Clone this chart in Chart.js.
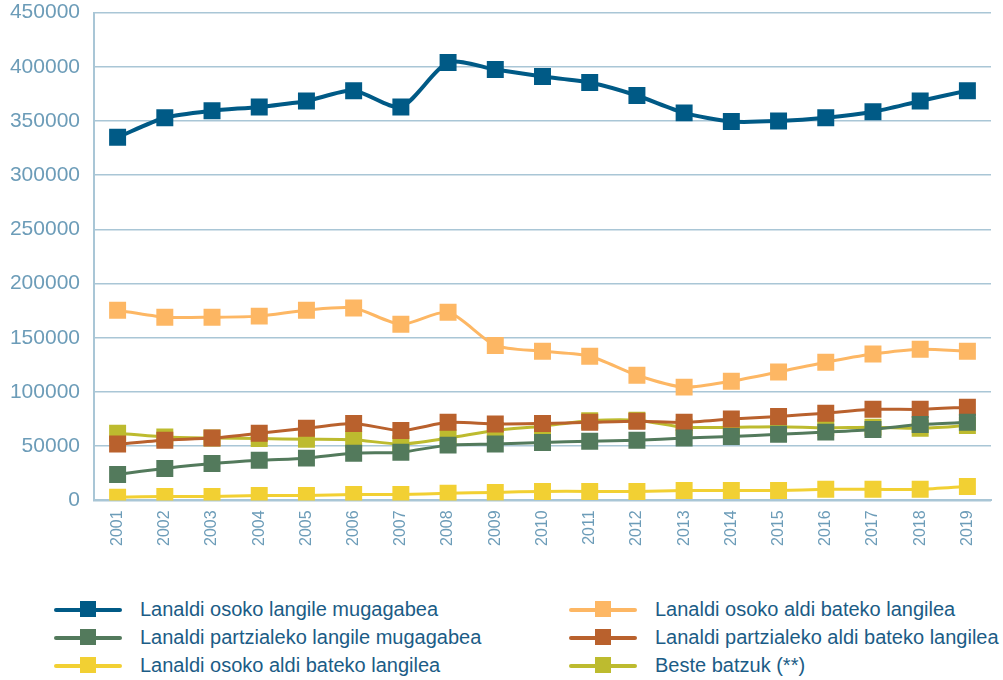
<!DOCTYPE html>
<html>
<head>
<meta charset="utf-8">
<script src="https://cdn.jsdelivr.net/npm/chart.js@4"></script>
<style>
  html, body { margin: 0; padding: 0; background: #ffffff; overflow: hidden; }
  #wrap { position: relative; width: 1003px; height: 570px; margin-top: -14px; }
  #legend {
    position: absolute; left: 0; top: 597px; width: 1003px;
    font-family: "Liberation Sans Narrow", "Liberation Sans", Arial, sans-serif;
    font-size: 20px; color: #1b5c86;
  }
  .item { position: absolute; height: 24px; line-height: 24px; white-space: nowrap; }
  .swatch { position: absolute; left: 0; top: 11px; width: 68px; height: 4px; border-radius: 2px; }
  .box { position: absolute; left: 26px; top: 4px; width: 16px; height: 16px; }
  .label { position: absolute; left: 86px; top: 0; }
</style>
</head>
<body>
<div id="wrap"><canvas id="chart"></canvas></div>
<div id="legend"></div>
<script>
// Urteak
const years = ['2001','2002','2003','2004','2005','2006','2007','2008','2009','2010',
               '2011','2012','2013','2014','2015','2016','2017','2018','2019'];

// Serieak (irudian irakurritako balioak)
const osokoMugagabea = [335000, 353000, 359500, 363000, 368500, 378000, 363000, 404000, 397500, 391000,
                        385500, 373500, 357500, 349500, 350000, 353000, 358500, 368500, 378000];
const osokoAldiBatekoa = [175500, 169000, 169000, 170000, 175500, 177500, 162500, 173500, 143000, 137500,
                          133000, 115500, 104500, 110000, 118500, 127500, 135000, 139500, 137500];
const partzialMugagabea = [24000, 29500, 34000, 37000, 39000, 43500, 44500, 51000, 52000, 53500,
                           54500, 55500, 57500, 59000, 61000, 63000, 65500, 70000, 72000];
const partzialAldiBatekoa = [52000, 55500, 57500, 62000, 66500, 71000, 64500, 72000, 70500, 71000,
                             72000, 73000, 72000, 75000, 77500, 80500, 84000, 84000, 86000];
const osokoAldiTxikia = [3000, 3700, 3700, 4600, 4600, 5500, 5500, 6500, 7400, 8300,
                         8300, 8300, 9200, 9200, 9200, 10200, 10200, 10200, 12900];
const besteBatzuk = [62000, 58500, 57500, 57000, 56500, 56000, 52000, 57500, 64500, 68500,
                     73500, 74000, 67500, 67500, 68000, 67000, 67500, 66500, 69000];

const yTicks = [0, 50000, 100000, 150000, 200000, 250000, 300000, 350000, 400000, 450000];

// Legendaren ordena: ezkerreko zutabea / eskuinekoa
const series = [
  { label: 'Lanaldi osoko langile mugagabea', data: osokoMugagabea, color: '#005a86', width: 4, col: 0, row: 0 },
  { label: 'Lanaldi osoko aldi bateko langilea', data: osokoAldiBatekoa, color: '#fdb764', width: 3, col: 1, row: 0 },
  { label: 'Lanaldi partzialeko langile mugagabea', data: partzialMugagabea, color: '#537a5c', width: 3, col: 0, row: 1 },
  { label: 'Lanaldi partzialeko aldi bateko langilea', data: partzialAldiBatekoa, color: '#b9612d', width: 3, col: 1, row: 1 },
  { label: 'Lanaldi osoko aldi bateko langilea', data: osokoAldiTxikia, color: '#f2d033', width: 3, col: 0, row: 2 },
  { label: 'Beste batzuk (**)', data: besteBatzuk, color: '#bdbb2f', width: 3, col: 1, row: 2 }
];

const tickColor = '#6c9cb8';
const gridColor = '#a9c6d6';

const chart = new Chart(document.getElementById('chart'), {
  type: 'line',
  data: {
    labels: years,
    datasets: series.map(s => ({
      label: s.label,
      data: s.data,
      borderColor: s.color,
      backgroundColor: s.color,
      borderWidth: s.width,
      pointStyle: 'rect',
      pointRadius: 12,
      pointHoverRadius: 12,
      pointBorderWidth: 0,
      tension: 0.25,
      fill: false
    }))
  },
  options: {
    responsive: true,
    maintainAspectRatio: false,
    animation: false,
    layout: { padding: { top: 0, right: 3, left: 0, bottom: 0 } },
    plugins: {
      legend: { display: false },
      tooltip: { enabled: false }
    },
    scales: {
      x: {
        offset: true,
        grid: { display: false, drawTicks: false },
        border: { display: true, color: gridColor, width: 2 },
        ticks: {
          color: tickColor,
          font: { family: 'Liberation Sans, Arial, sans-serif', size: 16 },
          minRotation: 90,
          maxRotation: 90,
          padding: 10
        }
      },
      y: {
        min: 0,
        max: 450000,
        afterBuildTicks: (axis) => { axis.ticks = yTicks.map(v => ({ value: v })); },
        afterFit: (axis) => { axis.width = 94; },
        grid: { color: gridColor, lineWidth: 1.5, drawTicks: false },
        border: { display: true, color: gridColor, width: 2 },
        ticks: {
          color: tickColor,
          font: { family: 'Liberation Sans, Arial, sans-serif', size: 21 },
          padding: 14,
          callback: (v) => String(v)
        }
      }
    }
  }
});

// HTML legenda bi zutabetan
const legend = document.getElementById('legend');
series.forEach(s => {
  const item = document.createElement('div');
  item.className = 'item';
  item.style.left = (s.col === 0 ? 54 : 569) + 'px';
  item.style.top = (s.row * 28) + 'px';
  item.innerHTML = '<span class="swatch" style="background:' + s.color + '"></span>' +
                   '<span class="box" style="background:' + s.color + '"></span>' +
                   '<span class="label">' + s.label + '</span>';
  legend.appendChild(item);
});
</script>
</body>
</html>
